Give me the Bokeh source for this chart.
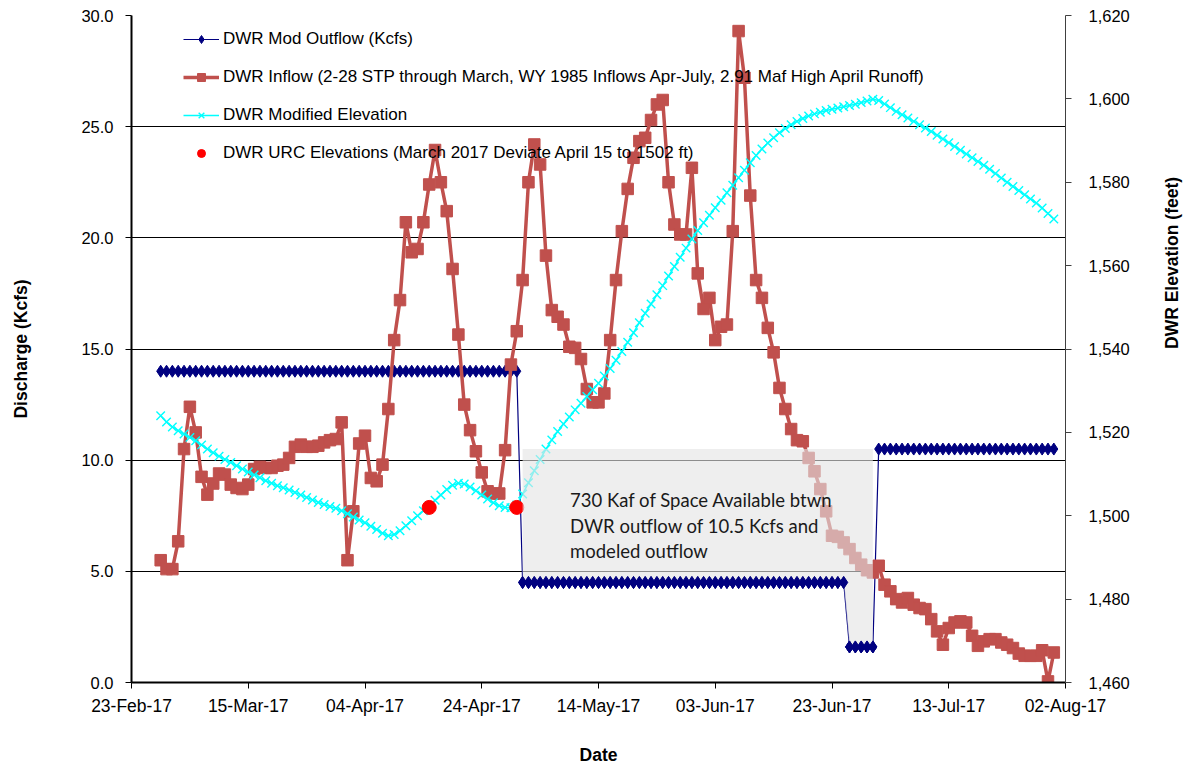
import math
import numpy as np
import pandas as pd
from bokeh.plotting import figure
from bokeh.models import (Range1d, LinearAxis, FixedTicker, DatetimeTickFormatter,
                          NumeralTickFormatter, Legend, LegendItem, ColumnDataSource,
                          Label, CDSView, BooleanFilter)
from bokeh.embed import file_html
from bokeh.resources import INLINE

# ---------------- data ----------------
first_day = "2017-02-28"

inflow_kcfs = [
    5.5, 5.1, 5.1, 6.35, 10.5, 12.4, 11.25, 9.25, 8.45, 8.95,
    9.4, 9.35, 8.9, 8.75, 8.7, 8.9, 9.6, 9.7, 9.65, 9.65,
    9.75, 9.8, 10.1, 10.6, 10.7, 10.6, 10.6, 10.65, 10.8, 10.9,
    10.95, 11.7, 5.5, 7.7, 10.75, 11.1, 9.2, 9.05, 9.8, 12.3,
    15.4, 17.2, 20.7, 19.35, 19.5, 20.7, 22.4, 23.95, 22.5, 21.2,
    18.6, 15.65, 12.5, 11.35, 10.4, 9.45, 8.6, 8.5, 8.5, 10.45,
    14.3, 15.8, 18.1, 22.5, 24.2, 23.3, 19.2, 16.75, 16.45, 16.1,
    15.1, 15.05, 14.55, 13.2, 12.6, 12.6, 13.0, 15.4, 18.1, 20.3,
    22.2, 23.6, 24.35, 24.5, 25.3, 26.0, 26.2, 22.5, 20.6, 20.15,
    20.15, 23.15, 18.4, 16.8, 17.3, 15.4, 16.0, 16.1, 20.3, 29.3,
    27.2, 21.9, 18.1, 17.3, 15.95, 14.85, 13.25, 12.3, 11.4, 10.9,
    10.85, 10.1, 9.5, 8.7, 7.7, 6.6, 6.55, 6.3, 6.0, 5.6,
    5.3, 5.05, 4.95, 5.25, 4.4, 4.1, 3.75, 3.6, 3.8, 3.5,
    3.35, 3.3, 2.85, 2.3, 1.7, 2.45, 2.7, 2.75, 2.7, 2.1,
    1.65, 1.85, 1.95, 1.95, 1.8, 1.7, 1.55, 1.3, 1.2, 1.2,
    1.2, 1.45, 0.05, 1.35,
]

elevation_ft = [
    1524.0, 1522.5, 1521.3, 1520.4, 1519.6, 1518.8, 1518.0, 1517.0, 1516.0, 1515.1,
    1514.3, 1513.5, 1512.8, 1512.0, 1511.2, 1510.5, 1509.8, 1509.1, 1508.4, 1507.8,
    1507.2, 1506.7, 1506.2, 1505.6, 1505.0, 1504.4, 1503.8, 1503.2, 1502.7, 1502.2,
    1501.8, 1501.2, 1500.5, 1499.7, 1499.0, 1498.3, 1497.5, 1496.7, 1495.8, 1495.2,
    1495.5, 1496.4, 1497.6, 1498.8, 1500.0, 1501.2, 1502.4, 1503.7, 1505.0, 1506.3,
    1507.3, 1507.8, 1507.6, 1506.9, 1506.0, 1505.0, 1504.0, 1503.1, 1502.4, 1502.0,
    1501.9, 1502.6, 1505.2, 1507.9, 1510.8, 1513.5, 1516.0, 1518.2, 1520.2, 1522.0,
    1523.7, 1525.4, 1527.0, 1528.6, 1530.2, 1531.8, 1533.5, 1535.3, 1537.3, 1539.4,
    1541.6, 1543.9, 1546.3, 1548.6, 1550.8, 1553.0, 1555.2, 1557.5, 1559.8, 1562.0,
    1564.2, 1566.4, 1568.4, 1570.3, 1572.1, 1573.9, 1575.7, 1577.5, 1579.3, 1581.1,
    1582.9, 1584.7, 1586.4, 1588.0, 1589.4, 1590.7, 1591.9, 1592.9, 1593.8, 1594.6,
    1595.3, 1595.9, 1596.4, 1596.8, 1597.2, 1597.5, 1597.8, 1598.1, 1598.4, 1598.7,
    1599.1, 1599.5, 1599.9, 1599.6, 1598.8, 1597.9, 1597.0, 1596.2, 1595.4, 1594.6,
    1593.8, 1593.0, 1592.2, 1591.3, 1590.4, 1589.5, 1588.6, 1587.7, 1586.8, 1585.9,
    1585.0, 1584.1, 1583.1, 1582.1, 1581.0, 1580.0, 1579.0, 1578.0, 1577.0, 1576.0,
    1575.0, 1573.8, 1572.5, 1571.2,
]

# modelled outflow: constant release levels
outflow_kcfs = [14.0] * 62 + [4.5] * 56 + [1.6] * 5 + [10.5] * 31

urc_dates = ["2017-04-15", "2017-04-30"]
urc_elev = [1502, 1502]

space_cap_kcfs = 10.5
space_note = ["730 Kaf of Space Available btwn",
              "DWR outflow of 10.5 Kcfs and",
              "modeled outflow"]

x_tick_dates = ["2017-02-23", "2017-03-15", "2017-04-04", "2017-04-24", "2017-05-14",
                "2017-06-03", "2017-06-23", "2017-07-13", "2017-08-02"]
y_ticks = [0, 5, 10, 15, 20, 25, 30]
elev_ticks = [1460, 1480, 1500, 1520, 1540, 1560, 1580, 1600, 1620]

labels = ["DWR Mod Outflow (Kcfs)",
          "DWR Inflow (2-28 STP through March, WY 1985 Inflows Apr-July, 2.91 Maf High April Runoff)",
          "DWR Modified Elevation",
          "DWR URC Elevations (March 2017 Deviate April 15 to 1502 ft)"]

# ---------------- build ----------------
dates = pd.date_range(first_day, periods=len(inflow_kcfs), freq="D")
outflow_arr = np.array(outflow_kcfs)
src = ColumnDataSource(dict(date=dates, inflow=inflow_kcfs, elev=elevation_ft,
                            outflow=outflow_kcfs))
urc_src = ColumnDataSource(dict(date=pd.to_datetime(urc_dates), elev=urc_elev))

in_box = outflow_arr < space_cap_kcfs
box_src = ColumnDataSource(dict(date=dates[in_box], lo=outflow_arr[in_box],
                                hi=[space_cap_kcfs] * int(in_box.sum())))

FONT = "Liberation Sans"

p = figure(width=1194, height=767, x_axis_type="datetime",
           x_range=Range1d(pd.Timestamp(x_tick_dates[0]), pd.Timestamp(x_tick_dates[-1])),
           y_range=Range1d(y_ticks[0], y_ticks[-1]),
           output_backend="svg", toolbar_location=None,
           min_border_left=131, min_border_right=128, min_border_top=15, min_border_bottom=82)
p.outline_line_color = None
p.background_fill_color = "white"
p.extra_y_ranges = {"elev": Range1d(elev_ticks[0], elev_ticks[-1])}

# grid
p.xgrid.visible = False
p.ygrid.ticker = FixedTicker(ticks=y_ticks)
p.ygrid.grid_line_color = "black"
p.ygrid.grid_line_width = 1
p.ygrid.grid_line_alpha = 1

# x axis
xax = p.xaxis[0]
xax.ticker = FixedTicker(ticks=[pd.Timestamp(d).value / 1e6 for d in x_tick_dates])
fmt = "%d-%b-%y"
xax.formatter = DatetimeTickFormatter(days=fmt, months=fmt, years=fmt, hours=fmt,
                                      hourmin=fmt, minutes=fmt, minsec=fmt, seconds=fmt)
# left axis
yax = p.yaxis[0]
yax.ticker = FixedTicker(ticks=y_ticks)
yax.formatter = NumeralTickFormatter(format="0.0")

# right axis
rax = LinearAxis(y_range_name="elev", ticker=FixedTicker(ticks=elev_ticks),
                 formatter=NumeralTickFormatter(format="0,0"))
p.add_layout(rax, "right")

for ax, size in ((xax, "17.5px"), (yax, "16.5px"), (rax, "16.5px")):
    ax.major_label_text_font = FONT
    ax.major_label_text_font_size = size
    ax.major_label_text_color = "black"
    ax.major_tick_out = 6
    ax.major_tick_in = 0
    ax.minor_tick_out = 0
    ax.minor_tick_in = 0
    ax.major_tick_line_color = "black"
    ax.axis_line_color = "black"
    ax.axis_label_text_font = FONT
    ax.axis_label_text_font_size = "17.5px"
    ax.axis_label_text_font_style = "bold"
    ax.axis_label_text_color = "black"
xax.axis_line_width = 2
yax.axis_line_width = 2
rax.axis_line_width = 1
rax.axis_line_color = "#404040"
rax.major_tick_line_color = "#404040"
xax.major_label_standoff = 7
yax.major_label_standoff = 12
rax.major_label_standoff = 17

xax.axis_label = "Date"
yax.axis_label = "Discharge (Kcfs)"
rax.axis_label = "DWR Elevation (feet)"
xax.axis_label_standoff = 26
yax.axis_label_standoff = 47
rax.axis_label_standoff = 39
try:
    rax.axis_label_orientation = math.pi / 2
except Exception:
    pass

# series
navy_line = p.line("date", "outflow", source=src, color="#000080", line_width=1.2)
navy_pts = p.scatter("date", "outflow", source=src, marker="diamond", size=12,
                     color="#000080")
red_line = p.line("date", "inflow", source=src, color="#C0504D", line_width=3.5)
red_pts = p.scatter("date", "inflow", source=src, marker="square", size=11.5,
                    color="#C0504D")
cyan_line = p.line("date", "elev", source=src, y_range_name="elev", color="#00FFFF",
                   line_width=1.5)
cyan_pts = p.scatter("date", "elev", source=src, y_range_name="elev", marker="x",
                     size=12, line_color="#00FFFF", line_width=1.4)
urc_pts = p.scatter("date", "elev", source=urc_src, y_range_name="elev", marker="circle",
                    size=14, color="#FF0000")

# space-available shading (between modelled outflow and 10.5 Kcfs)
p.varea(x="date", y1="lo", y2="hi", source=box_src, fill_color="#E4E4E4", fill_alpha=0.62)
p.scatter("date", "outflow", source=src, view=CDSView(filter=BooleanFilter(list(in_box))),
          marker="diamond", size=12, color="#000080")

note_x = pd.Timestamp("2017-05-09").value / 1e6 + 3 * 3600e3
for txt, yv in zip(space_note, [8.2, 7.05, 5.93]):
    p.add_layout(Label(x=note_x, y=yv, text=txt, text_font="Lato", text_font_size="18.5px",
                       text_color="#1A1A1A", text_baseline="middle", text_align="left"))

legend = Legend(items=[LegendItem(label=labels[0], renderers=[navy_line, navy_pts]),
                       LegendItem(label=labels[1], renderers=[red_line, red_pts]),
                       LegendItem(label=labels[2], renderers=[cyan_line, cyan_pts]),
                       LegendItem(label=labels[3], renderers=[urc_pts])],
                location=(52, 519), orientation="vertical", glyph_width=36,
                glyph_height=20, label_height=20, spacing=18, padding=0, margin=0,
                label_standoff=4, border_line_alpha=0, background_fill_alpha=0,
                label_text_font=FONT, label_text_font_size="17px",
                label_text_color="black")
p.add_layout(legend)

open("out.html", "w").write(file_html(p, INLINE))
